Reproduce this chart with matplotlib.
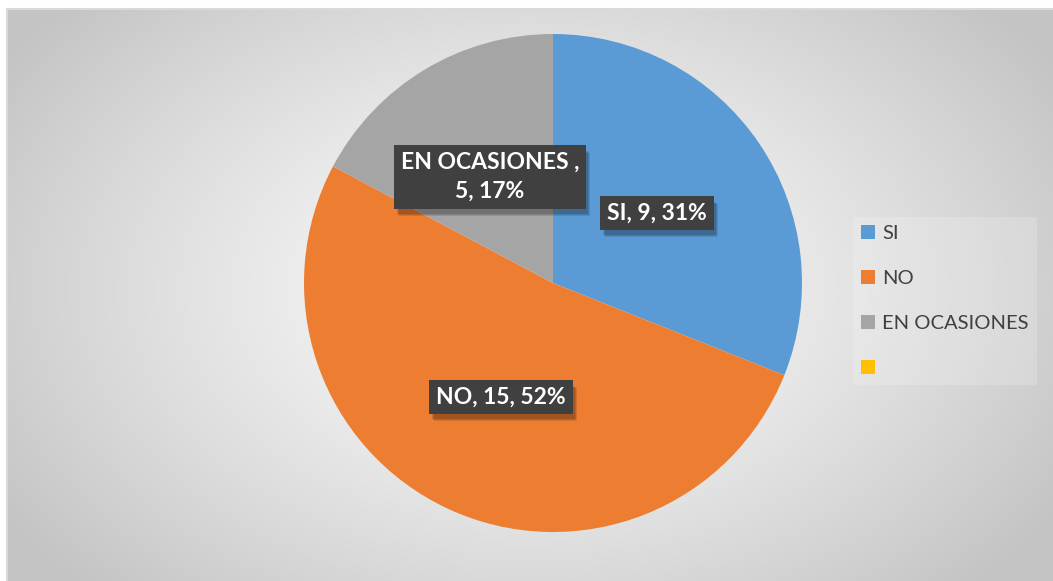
import numpy as np
import matplotlib
matplotlib.use("Agg")
import matplotlib.pyplot as plt
from matplotlib.patches import Rectangle

categories = ["SI", "NO", "EN OCASIONES", ""]
values = [9, 15, 5, 0]
colors = ["#5B9BD5", "#ED7D31", "#A5A5A5", "#FFC000"]
label_texts = ["SI, 9, 31%", "NO, 15, 52%", "EN OCASIONES ,\n5, 17%"]

W, H = 1053, 581
fig = plt.figure(figsize=(W / 100, H / 100), dpi=100)
fig.patch.set_facecolor("white")

# background gradient (chart area)
bg = fig.add_axes([7 / W, 0, (W - 7) / W, (H - 9) / H])
bg.set_axis_off()
yy, xx = np.mgrid[0:H - 9, 0:W - 7]
cx, cy = 520, 280
d = np.sqrt(((xx - cx) / 620.0) ** 2 + ((yy - cy) / 420.0) ** 2)
d = np.clip(d, 0, 1)
v = 0.985 - (0.985 - 0.77) * d ** 1.3
img = np.dstack([v, v, v])
bg.imshow(img, aspect="auto", extent=[0, 1, 0, 1])
bg.set_xlim(0, 1)
bg.set_ylim(0, 1)
bg.plot([0, 0], [0, 1], color="#d9d9d9", lw=1.5, transform=bg.transAxes, clip_on=False)
bg.plot([0, 1], [1, 1], color="#d9d9d9", lw=1.5, transform=bg.transAxes, clip_on=False)

# pie
R = 249
cxp, cyp = 553, H - 283
ax = fig.add_axes([(cxp - R) / W, (cyp - R) / H, 2 * R / W, 2 * R / H])
wedges, _ = ax.pie(values, colors=colors, startangle=90, counterclock=False,
                   radius=1, wedgeprops=dict(linewidth=0))
ax.set_xlim(-1, 1)
ax.set_ylim(-1, 1)
ax.set_aspect("equal")
ax.set_axis_off()

font = ["Lato", "DejaVu Sans"]
label_pos = [(0.418, 0.281), (-0.209, -0.458), (-0.253, 0.426)]
texts = []
for txt, (x, y) in zip(label_texts, label_pos):
    t = ax.text(x, y, txt, ha="center", va="center", color="white",
                fontsize=16.5, fontweight="bold", family=font, linespacing=1.5,
                zorder=5,
                bbox=dict(boxstyle="square,pad=0.3", facecolor="#404040",
                          edgecolor="none"))
    texts.append(t)

fig.canvas.draw()
r = fig.canvas.get_renderer()
for t in texts:
    bb = t.get_bbox_patch().get_window_extent(r)
    for k, a in [(0, 0.12), (1, 0.12), (2, 0.1)]:
        sh = Rectangle((bb.x0 + 3 + k, bb.y0 - 5 - k), bb.width - 1, bb.height - 1,
                       transform=None, facecolor="black", alpha=a,
                       edgecolor="none", zorder=4)
        ax.add_artist(sh)

leg = fig.legend(wedges, categories, loc="upper left",
                 bbox_to_anchor=(843 / W, 1 - 207 / H),
                 frameon=True, labelspacing=1.38,
                 handlelength=0.7, handleheight=0.7, handletextpad=0.35,
                 borderpad=0.4, prop={"family": ["Lato", "DejaVu Sans"], "size": 14.5})
leg.get_frame().set_facecolor("white")
leg.get_frame().set_alpha(0.18)
leg.get_frame().set_edgecolor("none")
leg.get_frame().set_boxstyle("square", pad=0)
for t in leg.get_texts():
    t.set_color("#404040")

fig.savefig("out.png", dpi=100)
